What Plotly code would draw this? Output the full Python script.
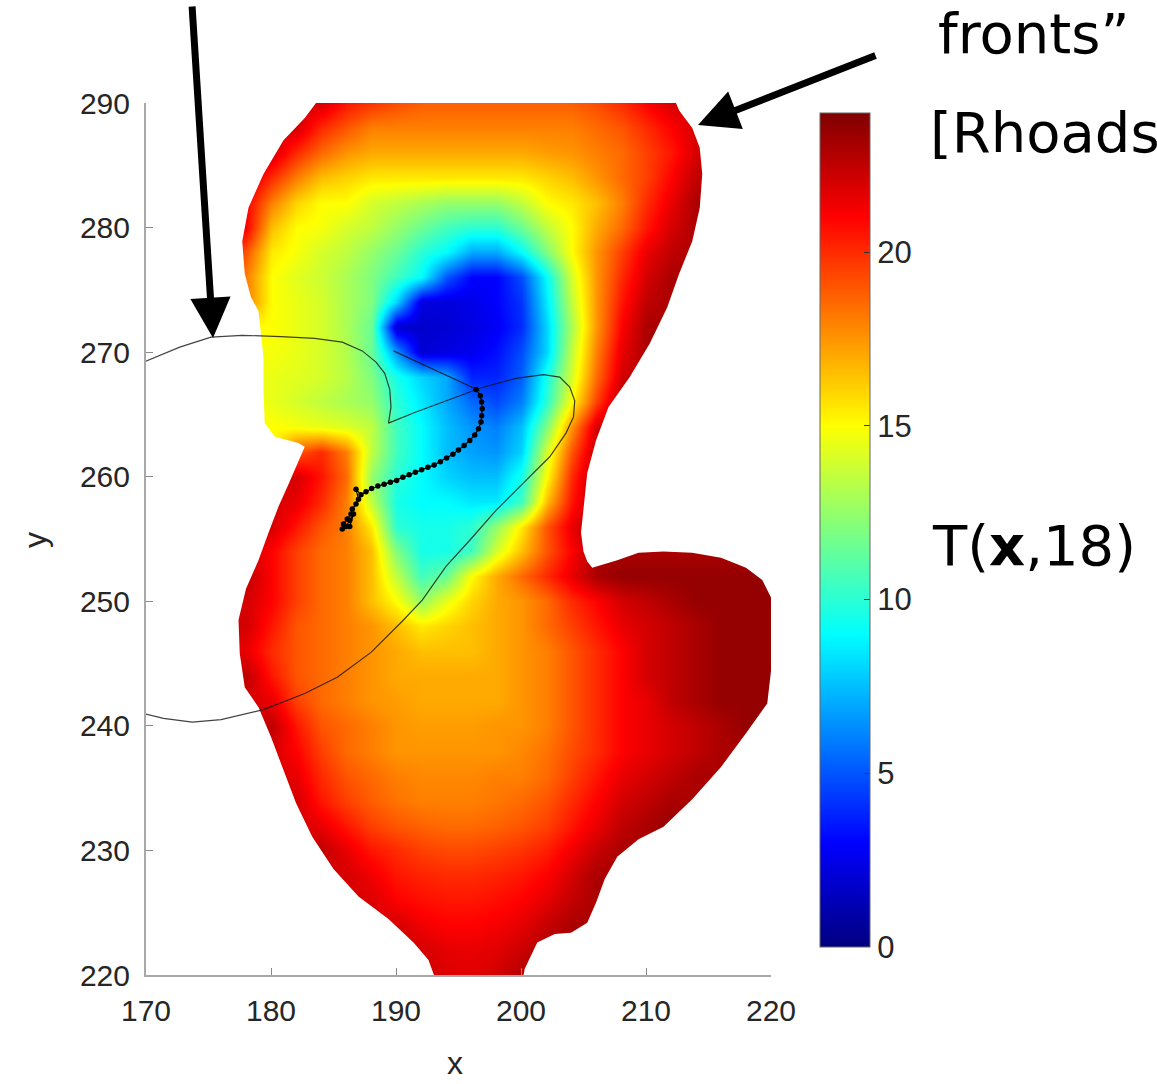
import plotly.graph_objects as go

# ---------------- data ----------------
x_cols = [176, 178, 180, 182, 184, 186, 188, 190, 192, 194, 196, 198,
          200, 202, 204, 206, 208, 210, 212, 214, 216, 218, 220]
y_rows = [290, 288, 286, 284, 282, 280, 278, 276, 274, 272, 270, 268,
          266, 264, 262, 260, 258, 256, 254, 252, 250, 248, 246, 244,
          242, 240, 238, 236, 234, 232, 230, 228, 226, 224, 222, 220]

# arrival time T(x,18) (rows follow y_rows, columns x_cols)
T_grid = [
    [22, 22, 22, 22, 22, 20.5, 19.8, 19.2, 18.8, 18.8, 18.8, 18.8, 18.8, 18.8, 18.8, 19.2, 20, 21, 22, 22, 22, 22, 22],
    [22, 22, 22, 22, 20, 19, 18, 18, 18, 18, 18, 18, 18, 18, 18, 18.5, 19, 20, 21, 22, 22, 22, 22],
    [22, 22, 22, 20, 18.5, 17.5, 17, 17, 17, 17, 17, 17, 17, 17.3, 17.5, 18, 18.5, 19.5, 20.5, 22, 22, 22, 22],
    [22, 22, 20, 18, 16.5, 16, 15.5, 15.5, 15.5, 15.5, 15.5, 15.5, 15.5, 16, 16.5, 17.5, 18.5, 19.5, 21, 22.5, 22, 22, 22],
    [22, 21, 18, 16, 15, 15, 14, 13.5, 13, 12.5, 12.5, 12.5, 13.5, 15, 15.5, 16.5, 18, 20, 21.5, 23, 23, 23, 23],
    [22, 21, 16.5, 15, 14.8, 14, 13.5, 12.5, 11.5, 10.5, 10, 10, 11.5, 13.5, 15, 17, 18.5, 20.5, 22, 23, 23, 23, 23],
    [22, 19, 15.5, 14.8, 14, 13.5, 12.5, 11.5, 10, 9, 7, 7, 9, 12, 15, 17.5, 19.5, 21.5, 22.5, 23, 23, 23, 23],
    [20, 18, 15, 14.3, 13.8, 13, 12, 10.5, 9, 5, 3, 3, 4.8, 9, 14, 17.5, 20, 22, 23, 23, 23, 23, 23],
    [18, 18, 15, 14.5, 14, 13, 12, 8, 2.2, 2.2, 2.5, 3, 4.2, 8.5, 13.5, 17.5, 20.5, 22.5, 23, 23, 23, 23, 23],
    [15, 15, 15, 14.5, 14, 13, 11.5, 1.8, 1.8, 2, 2.3, 2.8, 4, 8, 13, 17.5, 21, 23, 23, 23, 23, 23, 23],
    [15, 15, 14.8, 14.5, 14, 13.2, 11.5, 6.5, 2, 2.3, 2.6, 3.3, 4.8, 8, 13.5, 18, 21.5, 23, 23, 23, 23, 23, 23],
    [15, 15, 14.5, 14.3, 14, 13.3, 12, 9.5, 8, 7, 3.8, 3.8, 5.2, 9.5, 14, 18.5, 22, 23, 23, 23, 23, 23, 23],
    [15, 15, 14.5, 14, 13.5, 13, 12.5, 10, 8.5, 7, 5.5, 4.7, 6, 10, 15, 19.5, 23, 23, 23, 23, 23, 23, 23],
    [15, 15, 15, 14.8, 14.5, 14.2, 13.5, 10.5, 9, 7.5, 6.5, 6, 7.5, 12, 17.5, 22, 23, 23, 23, 23, 23, 23, 23],
    [15, 15, 15, 19, 20, 18, 13.5, 10.5, 9, 7.5, 6.8, 6.5, 8, 14, 19, 22.5, 23, 23, 23, 23, 23, 23, 23],
    [22, 22, 22, 22, 20.5, 18.5, 12.5, 10, 9, 8, 7.5, 7.5, 9.5, 15, 20, 23, 23, 23, 23, 23, 23, 23, 23],
    [22, 22, 22, 21.5, 20, 18, 13.5, 9.5, 9, 9, 8.5, 8.5, 10.5, 16.5, 20.5, 23, 23, 23, 23, 23, 23, 23, 23],
    [22, 22, 22, 20.5, 19, 18, 15.5, 10, 9.5, 9.5, 10, 12.5, 15.5, 19, 21.5, 23, 23, 23, 23, 23, 23, 23, 23],
    [22, 22, 21, 19.5, 18.5, 18, 16.5, 12, 9.5, 9.5, 10.5, 14, 16.5, 19, 21, 23, 23, 23, 23, 23, 23, 23, 23],
    [22, 22.5, 21, 19.5, 18.5, 18, 16.5, 13.5, 10.5, 11.5, 15, 17, 18.5, 20, 21.5, 23, 23.5, 23.5, 23.5, 23.5, 23.5, 23.5, 23.5],
    [22, 22, 21, 19.5, 18.5, 18, 16.5, 15, 12.5, 14.5, 16, 17, 17.5, 18.5, 20, 21, 22, 22.5, 23, 23.5, 23.5, 23.5, 23.5],
    [22, 22, 20.5, 19, 18.5, 18, 17.5, 16.5, 15.5, 16, 16.5, 17, 17.5, 18.5, 19.5, 20.5, 21.5, 22, 22.5, 23, 23.5, 23.5, 23.5],
    [22, 21.5, 20, 19, 18.5, 18, 17.5, 17, 16.5, 16.5, 16.5, 17, 17.5, 18, 19, 20, 21, 22, 22.5, 23, 23.5, 23.5, 23.5],
    [22, 22.5, 20.5, 19, 18.5, 18, 17.5, 17, 17, 17, 17, 17, 17.5, 18, 19, 20, 21, 22, 22.5, 23, 23.5, 23.5, 23.5],
    [22, 22, 21.5, 19.5, 18.5, 18, 17.5, 17.3, 17, 17, 17, 17, 17.5, 18, 19, 20, 21, 21.5, 22.5, 23, 23.5, 23.5, 23.5],
    [22, 22, 22.5, 20.5, 19, 18.5, 18, 17.5, 17.3, 17.3, 17.3, 17.5, 17.5, 18, 19, 20, 21, 21.5, 22, 22.5, 23, 23.5, 23.5],
    [22, 22, 22, 21, 19.5, 18.5, 18, 17.5, 17.5, 17.5, 17.5, 17.5, 17.8, 18.3, 19.2, 20, 21, 21.5, 22, 22.5, 23, 23, 23],
    [22, 22, 22, 21.5, 20, 19, 18.5, 18, 17.8, 17.8, 17.8, 18, 18, 18.5, 19.5, 20.5, 21.5, 22, 22.5, 23, 23, 23, 23],
    [22, 22, 22, 22, 20.5, 19.5, 18.8, 18.3, 18, 18, 18, 18.2, 18.5, 19, 20, 21, 22, 22.5, 23, 23, 23, 23, 23],
    [22, 22, 22, 22, 21.5, 20.5, 19.5, 19, 18.7, 18.5, 18.5, 18.7, 19, 19.5, 20.5, 21.5, 22.5, 23, 23.5, 23, 23, 23, 23],
    [22, 22, 22, 22, 22.5, 21.5, 20.5, 20, 19.5, 19.3, 19.3, 19.5, 19.8, 20.3, 21.3, 22.3, 23, 23, 23, 23, 23, 23, 23],
    [22, 22, 22, 22, 22, 22, 21.3, 20.5, 20.2, 20, 20, 20.2, 20.5, 21, 22, 23, 23, 23, 23, 23, 23, 23, 23],
    [22, 22, 22, 22, 22, 22, 21.8, 21, 20.7, 20.5, 20.5, 20.7, 21, 21.6, 22.4, 23, 23, 23, 23, 23, 23, 23, 23],
    [22, 22, 22, 22, 22, 22, 22, 22, 21.3, 21, 21, 21.2, 21.6, 22.3, 23, 23, 23, 23, 23, 23, 23, 23, 23],
    [22, 22, 22, 22, 22, 22, 22, 22.5, 22, 21.6, 21.5, 21.7, 22.2, 23, 23, 23, 23, 23, 23, 23, 23, 23, 23],
    [22, 22, 22, 22, 22, 22, 22, 22.5, 22.3, 21.8, 21.7, 22, 22.8, 23, 23, 23, 23, 23, 23, 23, 23, 23, 23],
]

# outline of the computed domain (clockwise)
blob_x = [184.0, 212.2, 212.4, 212.65, 213.7, 214.3, 214.5, 214.3, 213.7, 212.65, 211.7,
          210.3, 208.7, 207.0, 206.0, 205.3, 205.0, 204.8, 205.0, 205.3, 205.7, 207.7,
          209.4, 211.4, 213.7, 216.0, 218.0, 219.3, 220.0, 220.1, 219.7, 218.0, 216.0,
          213.7, 211.4, 209.4, 207.7, 206.7, 206.0, 205.3, 204.0, 202.7, 201.3, 200.3,
          200.0, 193.4, 192.6, 191.4, 189.4, 187.0, 185.0, 183.3, 182.0, 181.0, 180.0,
          179.0, 177.9, 177.5, 177.4, 178.0, 179.0, 179.8, 180.6, 181.4, 182.2, 182.7,
          182.2, 180.3, 179.5, 179.4, 179.4, 179.2, 179.0, 178.4, 177.9, 177.7, 178.2,
          179.4, 181.0, 182.7, 183.6, 184.0]
blob_y = [291.0, 291.0, 290.0, 289.4, 288.0, 286.4, 284.3, 281.6, 278.9, 276.3, 273.6,
          270.7, 268.0, 265.6, 262.9, 260.3, 257.5, 255.5, 254.0, 253.2, 252.7, 253.3,
          253.9, 254.0, 253.9, 253.5, 252.7, 251.7, 250.3, 245.3, 241.8, 239.4, 236.7,
          234.1, 231.9, 230.9, 229.5, 227.7, 225.8, 224.2, 223.4, 223.3, 222.6, 220.5,
          219.0, 219.0, 221.2, 222.6, 224.5, 226.3, 228.5, 231.1, 233.8, 236.5, 239.1,
          241.5, 243.1, 245.8, 248.5, 251.0, 253.3, 255.5, 257.6, 259.4, 261.3, 262.4,
          262.7, 263.2, 264.3, 266.9, 269.6, 271.7, 273.3, 274.4, 276.3, 278.9, 281.6,
          284.3, 287.0, 288.8, 290.0, 291.0]

# front curve (swallowtail) and shock edge
front_x = [169.8, 172.7, 175.2, 177.7, 180.8, 183.5, 185.7, 187.3, 188.4, 189.1, 189.5,
           189.6, 189.4, 191.6, 194.3, 196.7, 199.6, 201.8, 203.1, 203.9, 204.3, 204.2,
           203.6, 202.3, 200.1, 198.0, 195.9, 194.0, 192.1, 190.5, 188.0, 185.3, 182.7,
           179.4, 176.0, 173.7, 171.4, 169.8, None, 189.8, 196.7]
front_y = [269.2, 270.4, 271.2, 271.35, 271.25, 271.1, 270.8, 270.1, 269.2, 268.3, 267.0,
           265.6, 264.3, 265.2, 266.2, 267.1, 267.9, 268.2, 268.0, 267.2, 266.1, 264.8,
           263.5, 261.6, 259.4, 257.3, 254.9, 252.8, 250.1, 248.4, 245.9, 243.9, 242.6,
           241.3, 240.5, 240.3, 240.6, 241.0, None, 270.1, 266.9]

# trajectory (dots)
traj_x = [196.4, 196.75, 196.85, 196.9, 196.85, 196.8, 196.6, 196.3, 195.9, 195.45, 195.0,
          194.55, 194.05, 193.55, 193.05, 192.55, 192.05, 191.55, 191.05, 190.55, 190.05,
          189.55, 189.05, 188.55, 188.05, 187.6, 187.2, 186.8, 187.0, 186.8, 186.5, 186.4,
          186.1, 185.8, 185.7, 186.0, 186.3, 186.6, 186.3]
traj_y = [267.0, 266.5, 266.0, 265.45, 264.9, 264.4, 263.85, 263.35, 262.9, 262.5, 262.15,
          261.8, 261.5, 261.2, 260.95, 260.75, 260.55, 260.35, 260.15, 259.95, 259.7,
          259.55, 259.4, 259.25, 259.05, 258.8, 258.55, 259.0, 258.2, 257.8, 257.4, 257.0,
          256.6, 256.2, 255.8, 256.0, 256.5, 257.0, 256.0]

x_ticks = [170, 180, 190, 200, 210, 220]
y_ticks = [220, 230, 240, 250, 260, 270, 280, 290]
cb_ticks = [0, 5, 10, 15, 20]
T_min, T_max = 0, 24

# ---------------- figure ----------------
W, H = 1157, 1084
L, R, T, B = 146, 386, 103, 109
PW, PH = W - L - R, H - T - B
CB_TOP, CB_BOT = 113, 947


def px_x(p):
    return (p - L) / PW


def px_y(p):
    return (H - B - p) / PH


jet = [[0.0, 'rgb(0,0,128)'], [0.125, 'rgb(0,0,255)'], [0.375, 'rgb(0,255,255)'],
       [0.625, 'rgb(255,255,0)'], [0.875, 'rgb(255,0,0)'], [1.0, 'rgb(128,0,0)']]

fig = go.Figure()
fig.add_trace(go.Heatmap(
    x=x_cols, y=y_rows[::-1], z=T_grid[::-1], zmin=T_min, zmax=T_max,
    colorscale=jet, zsmooth='best', hoverinfo='skip',
    colorbar=dict(
        thickness=50, thicknessmode='pixels', len=CB_BOT - CB_TOP, lenmode='pixels',
        x=px_x(820), xanchor='left', xpad=0,
        y=px_y((CB_TOP + CB_BOT) / 2), yanchor='middle', ypad=0,
        outlinewidth=1, outlinecolor='#666',
        tickvals=cb_ticks, ticks='inside', ticklen=6, tickcolor='#333',
        tickfont=dict(family='Liberation Sans', size=31, color='#262626'),
    ),
))

# white mask outside the domain (outer box, then the outline in the opposite sense)
mask_x = [168, 168, 222, 222, 168] + blob_x + [168]
mask_y = [293, 218, 218, 293, 293] + blob_y + [293]
fig.add_trace(go.Scatter(x=mask_x, y=mask_y, mode='lines', fill='toself',
                         fillcolor='white', line=dict(width=0, color='white'),
                         hoverinfo='skip', showlegend=False))

fig.add_trace(go.Scatter(x=front_x, y=front_y, mode='lines',
                         line=dict(color='rgba(20,20,20,0.8)', width=1.2),
                         hoverinfo='skip', showlegend=False, connectgaps=False))
fig.add_trace(go.Scatter(x=traj_x, y=traj_y, mode='lines+markers',
                         line=dict(color='black', width=1.2),
                         marker=dict(color='black', size=5.5),
                         hoverinfo='skip', showlegend=False))

axis_common = dict(
    showgrid=False, zeroline=False, showline=True, linecolor='#a8a8a8', linewidth=2,
    ticks='inside', ticklen=7, tickwidth=1, tickcolor='#8a8a8a', mirror=False,
    tickfont=dict(family='Liberation Sans', size=30, color='#262626'),
    ticklabelstandoff=8,
)
fig.update_xaxes(range=[170, 220], tickvals=x_ticks, **axis_common)
fig.update_yaxes(range=[220, 290], tickvals=y_ticks, **axis_common)

# tick marks on the left side of the colour bar (MATLAB style)
shapes = []
for v in cb_ticks[1:]:
    yp = px_y(CB_BOT - (v - T_min) / (T_max - T_min) * (CB_BOT - CB_TOP))
    shapes.append(dict(type='line', xref='paper', yref='paper',
                       x0=px_x(820), x1=px_x(826), y0=yp, y1=yp,
                       line=dict(color='#333', width=1)))

big = dict(family='DejaVu Sans', size=56, color='black')
ann = [
    dict(text='x', x=px_x(455), y=px_y(1063), xref='paper', yref='paper',
         showarrow=False, xanchor='center', yanchor='middle',
         font=dict(family='Liberation Sans', size=32, color='#262626')),
    dict(text='y', x=px_x(35), y=px_y(540), xref='paper', yref='paper',
         showarrow=False, xanchor='center', yanchor='middle', textangle=-90,
         font=dict(family='Liberation Sans', size=32, color='#262626')),
    dict(text='fronts\u201d', x=px_x(936), y=px_y(34), xref='paper', yref='paper',
         showarrow=False, xanchor='left', yanchor='middle', font=big),
    dict(text='[Rhoads', x=px_x(928), y=px_y(132), xref='paper', yref='paper',
         showarrow=False, xanchor='left', yanchor='middle', font=big),
    dict(text='T(<b>x</b>,18)', x=px_x(930), y=px_y(545), xref='paper', yref='paper',
         showarrow=False, xanchor='left', yanchor='middle', font=big),
    dict(text='', x=px_x(213), y=px_y(338), xref='paper', yref='paper',
         showarrow=True, ax=-21, ay=-333, axref='pixel', ayref='pixel',
         arrowhead=2, arrowsize=1.15, arrowwidth=7, arrowcolor='black', standoff=0),
    dict(text='', x=px_x(698), y=px_y(125), xref='paper', yref='paper',
         showarrow=True, ax=179, ay=-70, axref='pixel', ayref='pixel',
         arrowhead=2, arrowsize=1.15, arrowwidth=7, arrowcolor='black', standoff=0),
]

fig.update_layout(
    width=W, height=H, margin=dict(l=L, r=R, t=T, b=B, autoexpand=False),
    paper_bgcolor='white', plot_bgcolor='white', showlegend=False,
    annotations=ann, shapes=shapes,
)

fig.write_html("out.html")
